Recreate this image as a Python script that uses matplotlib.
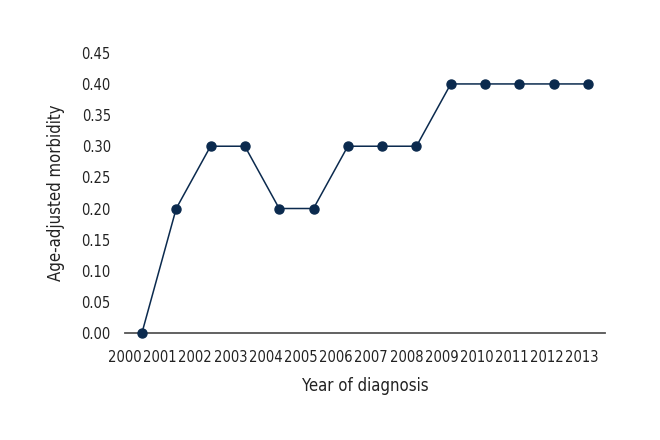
import matplotlib
matplotlib.use("Agg")
import matplotlib.pyplot as plt
import numpy as np

years = [str(y) for y in range(2000, 2014)]
morbidity = [0.0, 0.2, 0.3, 0.3, 0.2, 0.2, 0.3, 0.3, 0.3, 0.4, 0.4, 0.4, 0.4, 0.4]
yticks = [0.0, 0.05, 0.10, 0.15, 0.20, 0.25, 0.30, 0.35, 0.40, 0.45]

plt.rcParams["font.family"] = ["DejaVu Sans"]
plt.rcParams["font.stretch"] = "condensed"
navy = "#0b2a4e"

fig = plt.figure(figsize=(6.6, 4.4), dpi=100)
ax = fig.add_axes([0.189, 0.243, 0.728, 0.637])

x = np.arange(len(morbidity))
ax.plot(x, morbidity, color=navy, lw=1.1, marker="o", ms=6.5, zorder=3, clip_on=False)

ax.set_xlim(-0.5, len(morbidity) - 0.5)
ax.set_ylim(0, 0.45)
ax.set_yticks(yticks)
ax.set_yticklabels([f"{v:.2f}" for v in yticks])
# labels in the original are spread a bit tighter than the categories
ax.set_xticks(np.linspace(-0.5, 12.83, len(years)))
ax.set_xticklabels(years)
ax.tick_params(axis="both", length=0, labelsize=10.5, colors="#222222")
ax.tick_params(axis="x", pad=12)
ax.tick_params(axis="y", pad=10)

for side in ["top", "right", "left"]:
    ax.spines[side].set_visible(False)
ax.spines["bottom"].set_color("#555555")
ax.spines["bottom"].set_linewidth(1.3)

ax.set_xlabel("Year of diagnosis", fontsize=12, labelpad=9, color="#222222")
ax.set_ylabel("Age-adjusted morbidity", fontsize=12, labelpad=12, color="#222222")

fig.savefig("out.png", dpi=100)
